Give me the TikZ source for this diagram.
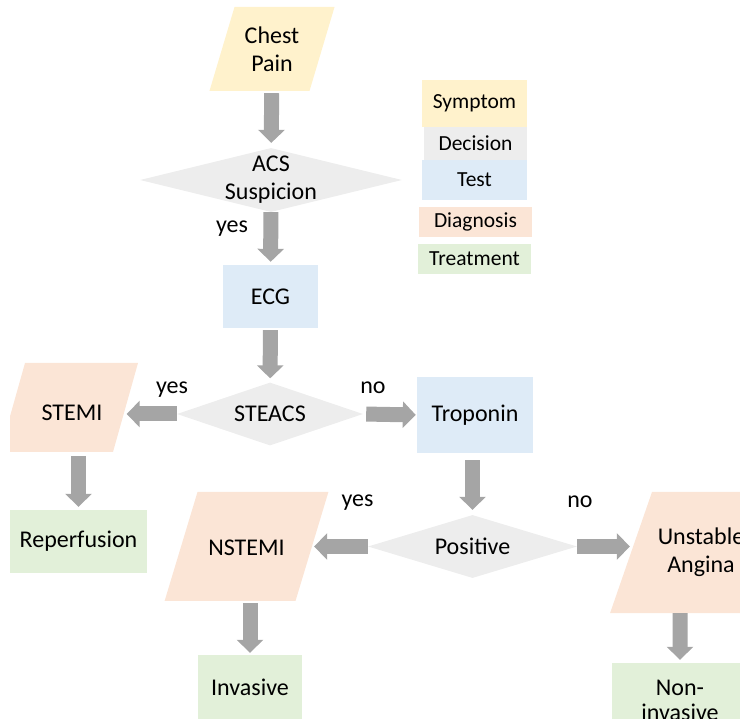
\documentclass[tikz,border=0pt]{standalone}
\usepackage{fontspec}
\setmainfont{Carlito}
\usepackage{tikz}
\usetikzlibrary{shapes.geometric,arrows.meta}
\definecolor{symptom}{HTML}{FFF2CC}
\definecolor{decision}{HTML}{EDEDED}
\definecolor{test}{HTML}{DEEBF7}
\definecolor{diag}{HTML}{FBE5D6}
\definecolor{treat}{HTML}{E2F0D9}
\definecolor{flowgray}{HTML}{A5A5A5}

\begin{document}
\begin{tikzpicture}[x=1pt, y=-1pt,
  txt/.style={font=\fontsize{24}{28}\selectfont, align=center, inner sep=0pt},
  box/.style={rectangle, txt},
  para/.style={trapezium, fill=diag, inner sep=0pt, minimum size=0pt, text depth=0pt},
  dec/.style={diamond, fill=decision, inner sep=0pt},
  key/.style={rectangle, inner sep=0pt, font=\fontsize{21.5}{24}\selectfont},
  lbl/.style={font=\fontsize{24}{28}\selectfont, inner sep=0pt},
  flow/.style={draw=flowgray, line width=15pt, -{Triangle[width=26pt, length=13pt]}}
]
\useasboundingbox (0,0) rectangle (740,719);
\clip (10,0) rectangle (740,719);

\node[para, fill=symptom, trapezium left angle=73.4, trapezium right angle=106.6, text width=75pt, text height=84pt, label={[txt]center:Chest\\Pain}] (chest) at (272,49) {};
\node[dec, minimum width=262pt, minimum height=64pt, label={[txt]center:ACS\\Suspicion}] (acs) at (271,180) {};
\node[box, fill=test, minimum width=95pt, minimum height=63pt] (ecg) at (270.5,296.5) {ECG};
\node[dec, minimum width=186pt, minimum height=63pt, label={[txt]center:STEACS}] (steacs) at (270,414) {};
\node[para, trapezium left angle=74.3, trapezium right angle=105.7, text width=88pt, text height=89pt, label={[txt, xshift=3pt, yshift=-5pt]center:STEMI}] (stemi) at (69,407.5) {};
\node[box, fill=treat, minimum width=137pt, minimum height=63pt] (reperf) at (78.5,541.5) {Reperfusion};
\node[box, fill=test, minimum width=116pt, minimum height=76pt] (tropo) at (475,415) {Troponin};
\node[dec, minimum width=209pt, minimum height=63pt, label={[txt]center:Positive}] (pos) at (472.5,546.5) {};
\node[para, trapezium left angle=73.2, trapezium right angle=106.8, text width=98pt, text height=109pt, label={[txt, yshift=-1pt]center:NSTEMI}] (nstemi) at (246.5,546.5) {};
\node[para, trapezium left angle=70.9, trapezium right angle=109.1, text width=98pt, text height=121pt, label={[txt]center:Unstable\\Angina}] (unstable) at (701,552.5) {};
\node[box, fill=treat, minimum width=136pt, minimum height=74pt, font=\fontsize{24}{25}\selectfont] (noninv) at (680,700) {Non-\\invasive};
\node[box, fill=treat, minimum width=104pt, minimum height=64pt] (inv) at (250,687) {Invasive};

% legend
\node[key, fill=symptom, minimum width=105pt, minimum height=47pt] (ksym) at (474.5,103.5) {Symptom};
\node[key, fill=decision, minimum width=103pt, minimum height=33pt] (kdec) at (475.5,143.5) {Decision};
\node[key, fill=test, minimum width=105pt, minimum height=40pt] (ktest) at (474.5,180) {Test};
\node[key, fill=diag, minimum width=113pt, minimum height=30pt] (kdiag) at (475.5,222) {Diagnosis};
\node[key, fill=treat, minimum width=113pt, minimum height=30pt] (ktreat) at (474.5,259) {Treatment};

\node[lbl] (yes1) at (232,229) {yes};
\node[lbl] (yes2) at (172,390) {yes};
\node[lbl] (no1) at (373,388) {no};
\node[lbl] (yes3) at (357.5,503) {yes};
\node[lbl] (no2) at (580,502) {no};

\draw[flow, shorten <=2pt, shorten >=5pt] (chest) -- (acs);
\draw[flow, shorten >=3pt] (acs) -- (ecg);
\draw[flow, shorten <=2pt, shorten >=4pt] (ecg) -- (steacs);
\draw[flow, shorten >=1pt] (steacs.west) -- (steacs.west -| stemi.east);
\draw[flow, shorten <=3pt, shorten >=1pt] (steacs.east) -- (tropo.west);
\draw[flow, shorten <=4pt, shorten >=3pt] (stemi.south -| reperf) -- (reperf.north);
\draw[flow, shorten <=7pt, shorten >=5pt] (tropo.south -| pos) -- (pos.north);
\draw[flow, shorten >=2pt] (pos.west) -- (pos.west -| nstemi.east);
\draw[flow, shorten >=1pt] (pos.east) -- (pos.east -| unstable.west);
\draw[flow, shorten <=2pt, shorten >=2pt] (nstemi.south -| inv) -- (inv.north);
\draw[flow, shorten >=3pt] ([xshift=-21pt]unstable.south) -- (noninv.north);
\end{tikzpicture}
\end{document}
